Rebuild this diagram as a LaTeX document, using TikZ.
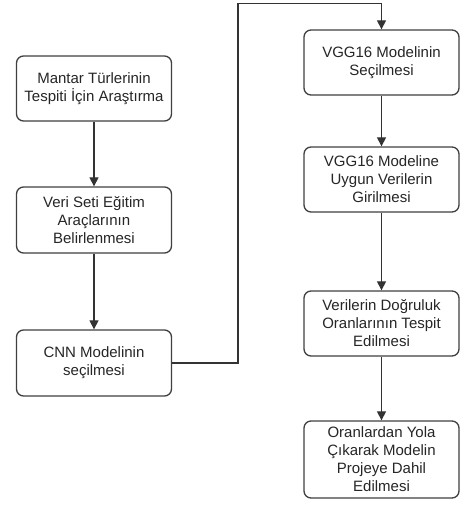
\documentclass[tikz,border=0pt]{standalone}
\usepackage{fontspec}
\setmainfont{Liberation Sans}
\usetikzlibrary{arrows.meta}
\begin{document}
\begin{tikzpicture}[x=1pt,y=-1pt,
  box/.style={draw=black!75, line width=1.3pt, rounded corners=7pt, fill=white,
    minimum width=155pt, minimum height=65pt, align=center, inner sep=2pt,
    text=black!85, font=\fontsize{15}{18}\selectfont},
  conn/.style={draw=black!80, line width=1.2pt, -{Triangle[width=9pt,length=9pt]}}]
\useasboundingbox (0,0) rectangle (462,506);
\node[box] (b1) at (94,88.5) {Mantar Türlerinin\\Tespiti İçin Araştırma};
\node[box, minimum height=66pt] (b2) at (94,220) {Veri Seti Eğitim\\Araçlarının\\Belirlenmesi};
\node[box, minimum height=66pt] (b3) at (94,363) {CNN Modelinin\\seçilmesi};
\node[box] (b4) at (381.5,62.5) {VGG16 Modelinin\\Seçilmesi};
\node[box] (b5) at (381.5,179.5) {VGG16 Modeline\\Uygun Verilerin\\Girilmesi};
\node[box] (b6) at (381.5,323.5) {Verilerin Doğruluk\\Oranlarının Tespit\\Edilmesi};
\node[box, minimum height=77pt] (b7) at (381.5,459.5) {Oranlardan Yola\\Çıkarak Modelin\\Projeye Dahil\\Edilmesi};
\coordinate (c1) at (238,3.5);
\draw[conn] (b1) -- (b2);
\draw[conn] (b2) -- (b3);
\draw[conn] (b3.east) -| (c1) -| (b4.north);
\draw[conn] (b4) -- (b5);
\draw[conn] (b5) -- (b6);
\draw[conn] (b6) -- (b7);
\end{tikzpicture}
\end{document}
